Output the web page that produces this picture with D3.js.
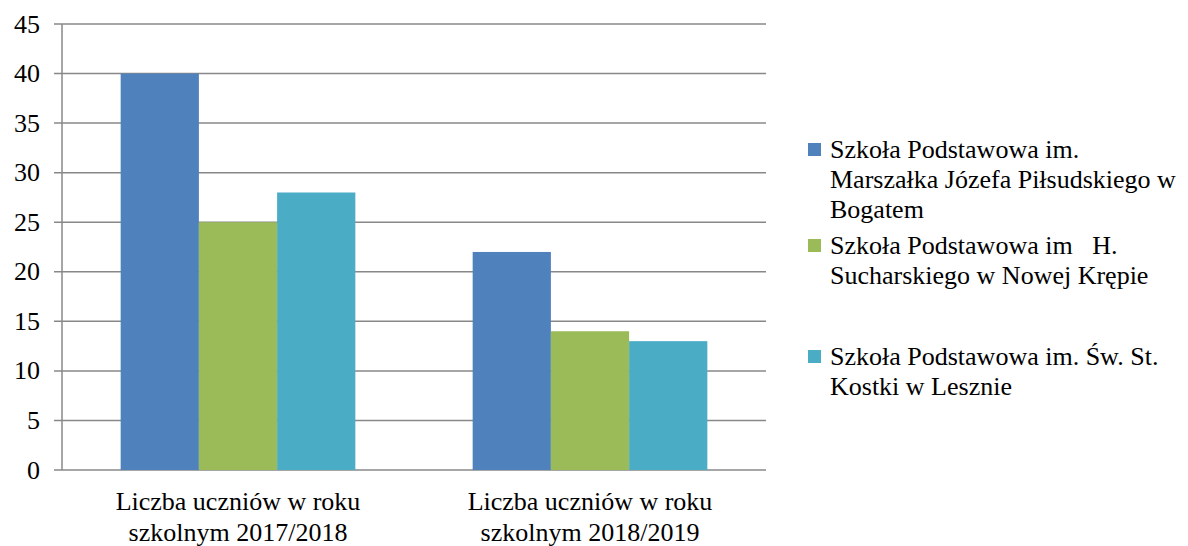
<meta charset="utf-8">
<svg id="svg" width="1188" height="546"></svg>
<script src="https://d3js.org/d3.v7.min.js"></script>
<script>
    var categories = [
        ["Liczba uczniów w roku", "szkolnym 2017/2018"],
        ["Liczba uczniów w roku", "szkolnym 2018/2019"]
    ];
    var seriesNames = [
        ["Szkoła Podstawowa im.", "Marszałka Józefa Piłsudskiego w", "Bogatem"],
        ["Szkoła Podstawowa im   H.", "Sucharskiego w Nowej Krępie"],
        ["Szkoła Podstawowa im. Św. St.", "Kostki w Lesznie"]
    ];
    var values = [
        [40, 22],
        [25, 14],
        [28, 13]
    ];
    var yTicks = [0, 5, 10, 15, 20, 25, 30, 35, 40, 45];
    var colors = ["#4F81BD", "#9BBB59", "#4BACC6"];

    var plotLeft = 62, plotRight = 766, plotTop = 24, plotBottom = 470;
    var font = "Liberation Serif";
    var fs = 26;

    var svg = d3.select("#svg");

    var y = d3.scaleLinear().domain([0, 45]).range([plotBottom, plotTop]);
    var x0 = d3.scaleBand().domain(d3.range(categories.length)).range([plotLeft, plotRight]);
    // Excel style: gap width 150% of a bar
    var barW = x0.bandwidth() / (values.length + 1.5);
    var x1 = d3.scaleBand().domain(d3.range(values.length))
        .range([0, barW * values.length]);

    // gridlines
    svg.append("g").selectAll("line")
        .data(yTicks)
        .enter()
        .append("line")
        .attr("x1", plotLeft - 8)
        .attr("x2", plotRight)
        .attr("y1", function (d) { return y(d); })
        .attr("y2", function (d) { return y(d); })
        .attr("stroke", "#888")
        .attr("stroke-width", 1.5);

    // y axis line
    svg.append("line")
        .attr("x1", plotLeft).attr("x2", plotLeft)
        .attr("y1", plotTop).attr("y2", plotBottom)
        .attr("stroke", "#888")
        .attr("stroke-width", 1.5);

    // y tick labels
    svg.append("g").selectAll("text")
        .data(yTicks)
        .enter()
        .append("text")
        .attr("x", 40)
        .attr("y", function (d) { return y(d); })
        .attr("dy", "0.33em")
        .attr("text-anchor", "end")
        .attr("font-family", font)
        .attr("font-size", fs)
        .attr("fill", "#000")
        .text(function (d) { return d; });

    // bars
    values.forEach(function (series, s) {
        svg.append("g").selectAll("rect")
            .data(series)
            .enter()
            .append("rect")
            .attr("x", function (d, i) { return x0(i) + (x0.bandwidth() - barW * values.length) / 2 + x1(s); })
            .attr("y", function (d) { return y(d); })
            .attr("width", x1.bandwidth())
            .attr("height", function (d) { return y(0) - y(d); })
            .attr("fill", colors[s]);
    });

    // category labels
    svg.append("g").selectAll("text")
        .data(categories)
        .enter()
        .append("text")
        .attr("x", function (d, i) { return x0(i) + x0.bandwidth() / 2; })
        .attr("y", 510)
        .attr("text-anchor", "middle")
        .attr("font-family", font)
        .attr("font-size", fs)
        .attr("fill", "#000")
        .each(function (d) {
            var t = d3.select(this);
            d.forEach(function (line, k) {
                t.append("tspan")
                    .attr("x", t.attr("x"))
                    .attr("dy", k === 0 ? 0 : 31)
                    .text(line);
            });
        });

    // legend
    var legendY = [158, 254, 365];
    var legend = svg.append("g");
    seriesNames.forEach(function (lines, s) {
        legend.append("rect")
            .attr("x", 808)
            .attr("y", legendY[s] - 15)
            .attr("width", 13)
            .attr("height", 13)
            .attr("fill", colors[s]);
        var t = legend.append("text")
            .attr("x", 830)
            .attr("y", legendY[s])
            .attr("font-family", font)
            .attr("font-size", fs)
            .attr("fill", "#000")
            .style("white-space", "pre");
        lines.forEach(function (line, k) {
            t.append("tspan")
                .attr("x", 830)
                .attr("dy", k === 0 ? 0 : 30)
                .text(line);
        });
    });
</script>
<style>
    html,
    body {
        margin: 0;
        padding: 0;
    }
</style>
